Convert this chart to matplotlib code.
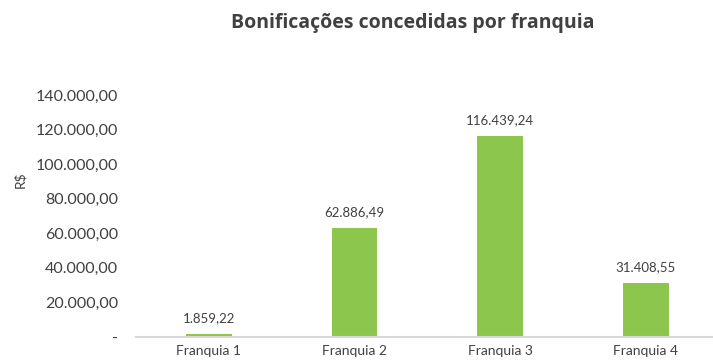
import matplotlib.pyplot as plt

franquias = ["Franquia 1", "Franquia 2", "Franquia 3", "Franquia 4"]
bonificacoes = [1859.22, 62886.49, 116439.24, 31408.55]
y_ticks = [0, 20000, 40000, 60000, 80000, 100000, 120000, 140000]


def formata_brl(valor):
    """Formata o número no padrão brasileiro: 1.234,56"""
    if valor == 0:
        return "-"
    texto = f"{valor:,.2f}"
    return texto.replace(",", "X").replace(".", ",").replace("X", ".")


def main():
    plt.rcParams['font.family'] = ['Lato', 'DejaVu Sans']
    cor_texto = "#404040"

    fig = plt.figure(figsize=(7.13, 3.61), dpi=100)
    ax = fig.add_axes([0.1907, 0.0665, 0.8093, 0.6705])

    x = range(len(franquias))
    barras = ax.bar(x, bonificacoes, width=0.315, color="#8DC64C")

    for barra, valor in zip(barras, bonificacoes):
        ax.annotate(formata_brl(valor),
                    (barra.get_x() + barra.get_width() / 2, valor),
                    xytext=(0, 7), textcoords="offset points",
                    ha="center", va="bottom", fontsize=9.5, color=cor_texto)

    ax.set_xlim(-0.5, 3.46)
    ax.set_ylim(0, 140000)
    ax.set_xticks(list(x))
    ax.set_xticklabels(franquias, fontsize=10, color=cor_texto)
    ax.set_yticks(y_ticks)
    ax.set_yticklabels([formata_brl(v) for v in y_ticks], fontsize=11.5, color=cor_texto)
    ax.tick_params(axis="both", length=0)
    ax.tick_params(axis="y", pad=13)
    ax.tick_params(axis="x", pad=6)

    for lado in ["top", "right", "left"]:
        ax.spines[lado].set_visible(False)
    ax.spines["bottom"].set_color("#d9d9d9")
    ax.spines["bottom"].set_linewidth(1.5)

    ax.set_ylabel("R$", fontsize=10, color=cor_texto)
    ax.yaxis.set_label_coords(-0.19, 0.65)

    fig.text(0.579, 0.935, "Bonificações concedidas por franquia",
             ha="center", va="center", fontsize=14, fontweight="bold",
             color=cor_texto, family=['Open Sans', 'DejaVu Sans'])

    plt.savefig("out.png", dpi=100)


if __name__ == "__main__":
    main()
